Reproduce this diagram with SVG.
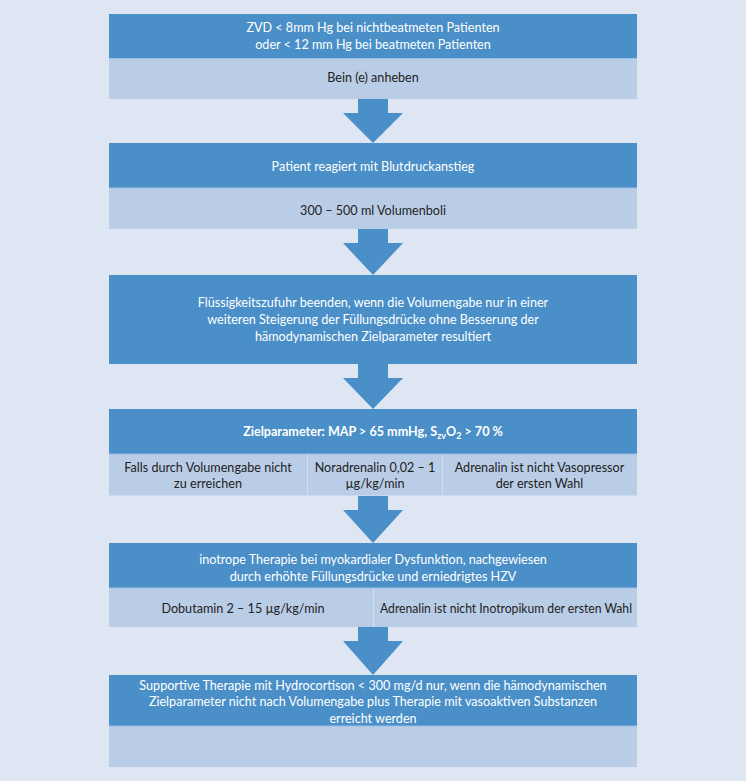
<svg xmlns="http://www.w3.org/2000/svg" width="746" height="781" viewBox="0 0 746 781">
<style>
.bg{fill:#dfe6f3}
.dark{fill:#4a8fc8}
.light{fill:#bacde7}
.div{stroke:#d3def0;stroke-width:1}
.sep{stroke:#9dbde2;stroke-width:1}
.arrow{fill:#4a8fc8}
text{font-family:Lato,"Liberation Sans",sans-serif;font-size:12.6px;text-anchor:middle}
.w{fill:#ffffff}
.k{fill:#222222}
.b{font-weight:bold}
</style>
<rect class="bg" x="0" y="0" width="746" height="781"/>
<g id="connectors">
<path class="arrow" d="M358 99H388V113H403L373 143L343 113H358Z"/>
<path class="arrow" d="M358 229H388V243H403L373 275L343 243H358Z"/>
<path class="arrow" d="M358 364H388V378H403L373 409L343 378H358Z"/>
<path class="arrow" d="M358 496H388V510H403L373 543L343 510H358Z"/>
<path class="arrow" d="M358 627H388V641H403L373 675L343 641H358Z"/>
</g>
<g id="node1">
<rect class="dark" x="109" y="14" width="528" height="44.5"/>
<rect class="light" x="109" y="58.5" width="528" height="40.5"/>
<line class="sep" x1="109" y1="58.5" x2="637" y2="58.5"/>
<text class="w" x="373" y="31.5">ZVD &lt; 8mm Hg bei nichtbeatmeten Patienten</text>
<text class="w" x="373" y="48.5">oder &lt; 12 mm Hg bei beatmeten Patienten</text>
<text class="k" x="373" y="81.5">Bein (e) anheben</text>
</g>
<g id="node2">
<rect class="dark" x="109" y="143" width="528" height="45"/>
<rect class="light" x="109" y="188" width="528" height="41"/>
<line class="sep" x1="109" y1="188" x2="637" y2="188"/>
<text class="w" x="373" y="170.5">Patient reagiert mit Blutdruckanstieg</text>
<text class="k" x="373" y="214.5">300 – 500 ml Volumenboli</text>
</g>
<g id="node3">
<rect class="dark" x="109" y="275" width="528" height="89"/>
<text class="w" x="373" y="306.5">Flüssigkeitszufuhr beenden, wenn die Volumengabe nur in einer</text>
<text class="w" x="373" y="323.5">weiteren Steigerung der Füllungsdrücke ohne Besserung der</text>
<text class="w" x="373" y="340.5">hämodynamischen Zielparameter resultiert</text>
</g>
<g id="node4">
<rect class="dark" x="109" y="409" width="528" height="45"/>
<rect class="light" x="109" y="454" width="528" height="41.5"/>
<line class="sep" x1="109" y1="454" x2="637" y2="454"/>
<line class="div" x1="307.5" y1="454.5" x2="307.5" y2="495.5"/>
<line class="div" x1="442.5" y1="454.5" x2="442.5" y2="495.5"/>
<text class="w b" x="373" y="435.5">Zielparameter: MAP &gt; 65 mmHg, S<tspan font-size="9" dy="3">zv</tspan><tspan dy="-3">O</tspan><tspan font-size="9" dy="3">2</tspan><tspan dy="-3"> &gt; 70 %</tspan></text>
<text class="k" x="208" y="471.5">Falls durch Volumengabe nicht</text>
<text class="k" x="208" y="487.5">zu erreichen</text>
<text class="k" x="375" y="471.5">Noradrenalin 0,02 – 1</text>
<text class="k" x="375" y="487.5">µg/kg/min</text>
<text class="k" x="539.5" y="471.5">Adrenalin ist nicht Vasopressor</text>
<text class="k" x="539.5" y="487.5">der ersten Wahl</text>
</g>
<g id="node5">
<rect class="dark" x="109" y="543" width="528" height="45"/>
<rect class="light" x="109" y="588" width="528" height="39"/>
<line class="sep" x1="109" y1="588" x2="637" y2="588"/>
<line class="div" x1="373.5" y1="588.5" x2="373.5" y2="627"/>
<text class="w" x="373" y="563.5">inotrope Therapie bei myokardialer Dysfunktion, nachgewiesen</text>
<text class="w" x="373" y="580.5">durch erhöhte Füllungsdrücke und erniedrigtes HZV</text>
<text class="k" x="243" y="612.5">Dobutamin 2 – 15 µg/kg/min</text>
<text class="k" x="506" y="612.5" textLength="252" lengthAdjust="spacingAndGlyphs">Adrenalin ist nicht Inotropikum der ersten Wahl</text>
</g>
<g id="node6">
<rect class="dark" x="109" y="675" width="528" height="51"/>
<rect class="light" x="109" y="726" width="528" height="41"/>
<line class="sep" x1="109" y1="726" x2="637" y2="726"/>
<text class="w" x="373" y="689.5">Supportive Therapie mit Hydrocortison &lt; 300 mg/d nur, wenn die hämodynamischen</text>
<text class="w" x="373" y="706">Zielparameter nicht nach Volumengabe plus Therapie mit vasoaktiven Substanzen</text>
<text class="w" x="373" y="722.5">erreicht werden</text>
</g>
</svg>
